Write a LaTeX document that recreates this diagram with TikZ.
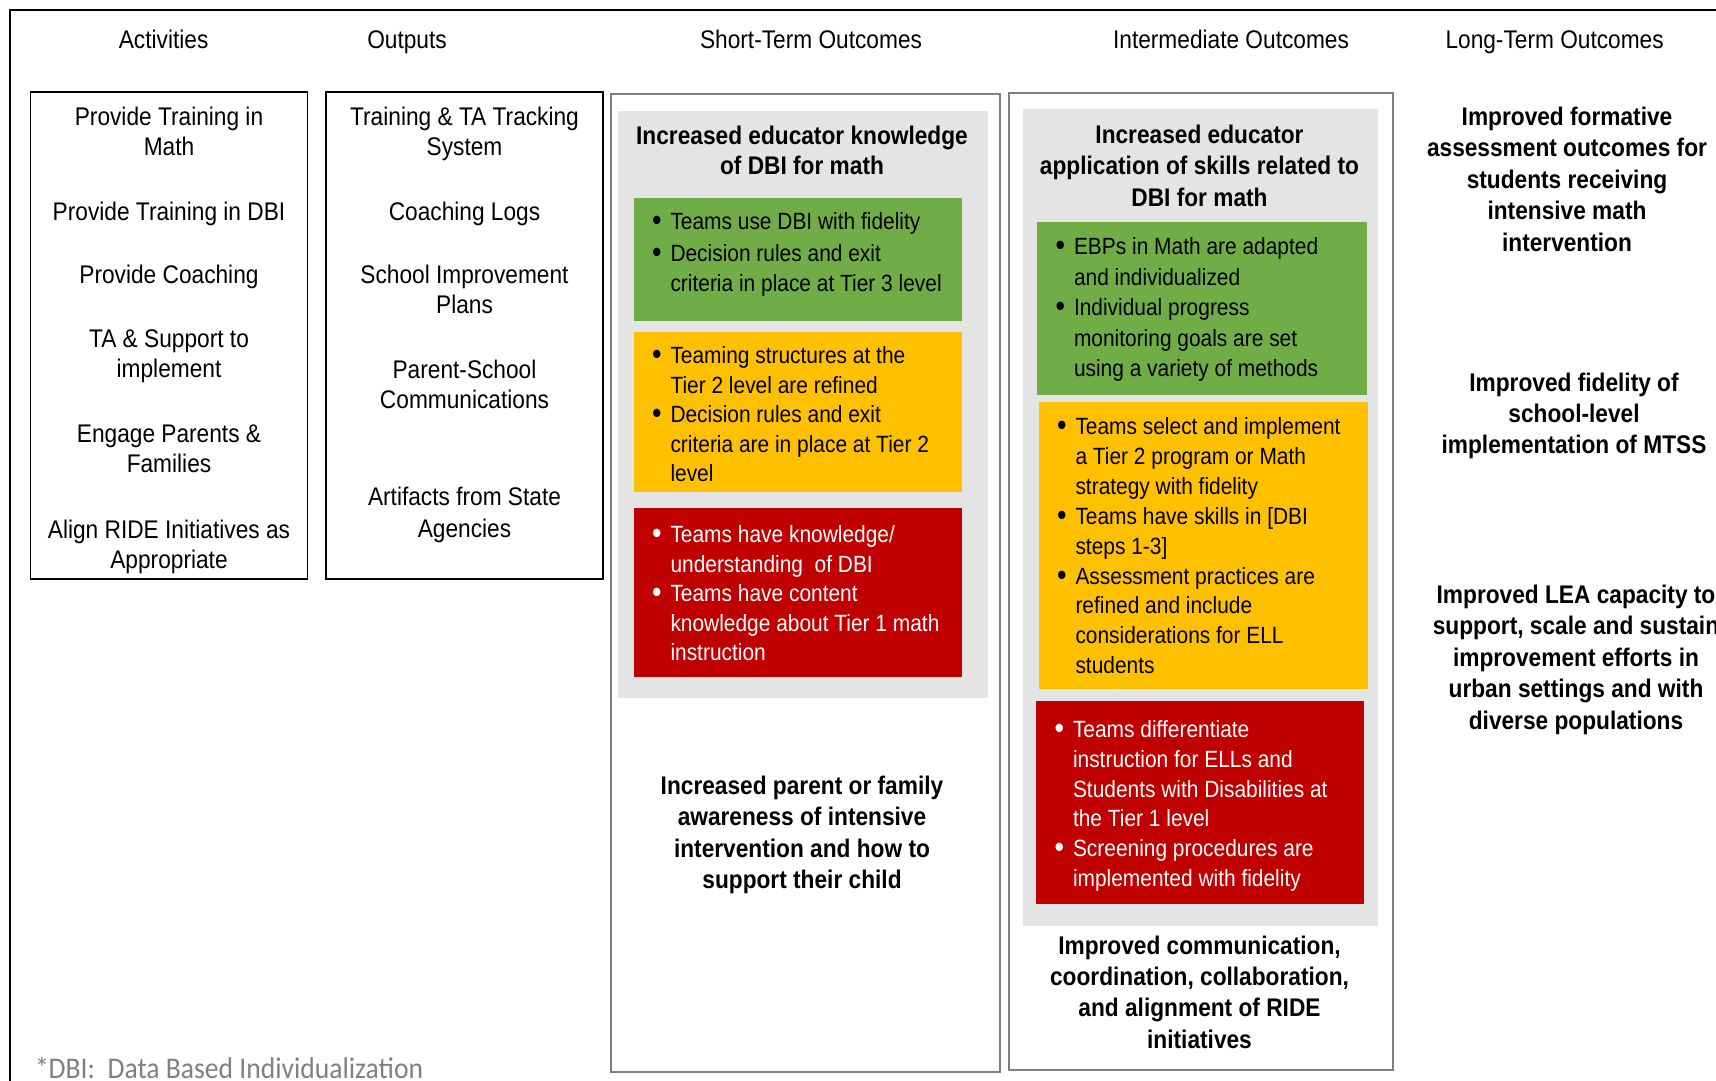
\documentclass[tikz,border=0pt]{standalone}
\usepackage{fontspec}
\usepackage{graphicx}
\setmainfont{Liberation Sans}[FakeStretch=0.89]
\newfontfamily\notefont{Carlito}[FakeStretch=0.92]
\definecolor{gpanel}{HTML}{E4E4E4}
\definecolor{ggreen}{HTML}{70AD47}
\definecolor{gyellow}{HTML}{FFC000}
\definecolor{gred}{HTML}{C00000}
\definecolor{boxgray}{HTML}{7F7F7F}
\definecolor{notegray}{HTML}{808080}
\newlength\bw \setlength\bw{18.5pt}
\newcommand\bl{\makebox[\bw][l]{\raisebox{-1.2pt}{\scalebox{1.3}{\textbullet}}}}
\newcommand\ind{\hspace*{\bw}}
\newcommand\mlc[1]{\begin{tabular}[t]{@{}c@{}}#1\end{tabular}}
\newcommand\mll[1]{\begin{tabular}[t]{@{}l@{}}#1\end{tabular}}
\begin{document}
\begin{tikzpicture}[x=1pt,y=-1pt,
  every node/.style={inner sep=0pt,outer sep=0pt},
  hdr/.style={anchor=base,font=\fontsize{25.5}{30.6}\selectfont},
  reg/.style={anchor=base,font=\fontsize{25.5}{30.6}\selectfont},
  bhead/.style={anchor=base,font=\fontsize{25.5}{#1}\selectfont\bfseries},
  blist/.style={anchor=base west,font=\fontsize{23.5}{#1}\selectfont},
  actbox/.style={draw=black,line width=1.5pt},
  outbox/.style={draw=boxgray,line width=2pt},
  panel/.style={fill=gpanel},
]
\useasboundingbox (0,0) rectangle (1716,1081);
\clip (0,0) rectangle (1716,1081);
\fill[white] (0,0) rectangle (1716,1081);
% outer frame
\draw[line width=2.5pt] (10,10) rectangle (1740,1110);

% headers
\node[hdr] (hA) at (163.6,48.6) {Activities};
\node[hdr] (hO) at (407,48.6) {Outputs};
\node[hdr] (hS) at (811,48.6) {Short-Term Outcomes};
\node[hdr] (hI) at (1231,48.6) {Intermediate Outcomes};
\node[hdr] (hL) at (1554.6,48.6) {Long-Term Outcomes};

% activities
\draw[actbox] (30.6,92) rectangle (307.5,579);
\node[reg] (a1) at (169,125) {\mlc{Provide Training in\\Math}};
\node[reg] (a2) at (169,220) {Provide Training in DBI};
\node[reg] (a3) at (169,283) {Provide Coaching};
\node[reg] (a4) at (169,347) {\mlc{TA \& Support to\\implement}};
\node[reg] (a5) at (169,442) {\mlc{Engage Parents \&\\Families}};
\node[reg] (a6) at (169,538) {\mlc{Align RIDE Initiatives as\\Appropriate}};

% outputs
\draw[actbox] (326,92) rectangle (603,579);
\node[reg] (o1) at (464.5,125) {\mlc{Training \& TA Tracking\\System}};
\node[reg] (o2) at (464.5,220) {Coaching Logs};
\node[reg] (o3) at (464.5,283) {\mlc{School Improvement\\Plans}};
\node[reg] (o4) at (464.5,378) {\mlc{Parent-School\\Communications}};
\node[reg] (o5) at (464.5,505) {\mlc{Artifacts from State\\[2pt]Agencies}};

% short-term
\draw[outbox] (610.5,94) rectangle (999.5,1072);
\fill[gpanel] (618,110.5) rectangle (988,698);
\fill[ggreen] (634,198) rectangle (962,321);
\fill[gyellow] (634,332) rectangle (962,492);
\fill[gred] (634,508) rectangle (962,677);
\node[bhead=30.5] (s0) at (802,144) {\mlc{Increased educator knowledge\\of DBI for math}};
\node[blist=30] (s1) at (652,229.5) {\mll{\bl Teams use DBI with fidelity\\[1.5pt]
  \bl Decision rules and exit\\
  \ind criteria in place at Tier 3 level}};
\node[blist=29.5] (s2) at (652,363.5) {\mll{\bl Teaming structures at the\\
  \ind Tier 2 level are refined\\
  \bl Decision rules and exit\\
  \ind criteria are in place at Tier 2\\
  \ind level}};
\node[blist=29.5,text=white] (s3) at (652,542.5) {\mll{\bl Teams have knowledge/\\
  \ind understanding\ \ of DBI\\
  \bl Teams have content\\
  \ind knowledge\ about\ Tier 1 math\\
  \ind instruction}};
\node[bhead=31.6] (s4) at (802,794) {\mlc{Increased parent or family\\awareness of intensive\\intervention and how to\\support their child}};

% intermediate
\draw[outbox] (1009,93) rectangle (1392.5,1070);
\fill[gpanel] (1022.5,108.5) rectangle (1377.5,926);
\fill[ggreen] (1036.5,222) rectangle (1366.5,395);
\fill[gyellow] (1038.5,402) rectangle (1368,689);
\fill[gred] (1036,701) rectangle (1364,904);
\node[bhead=31.5] (i0) at (1199.5,143) {\mlc{Increased educator\\application of skills related to\\DBI for math}};
\node[blist=30.5] (i1) at (1055.5,254.5) {\mll{\bl EBPs in Math are adapted\\
  \ind and individualized\\
  \bl Individual\ progress\\
  \ind monitoring\ goals are set\\
  \ind using a\ variety of methods}};
\node[blist=29.9] (i2) at (1057,434.5) {\mll{\bl Teams select and implement\\
  \ind a Tier 2 program\ or Math\\
  \ind strategy with fidelity\\
  \bl Teams have skills in [DBI\\
  \ind steps 1-3]\\
  \bl Assessment practices are\\
  \ind refined and include\\
  \ind considerations\ for ELL\\
  \ind students}};
\node[blist=29.8,text=white] (i3) at (1054.5,737.5) {\mll{\bl Teams differentiate\\
  \ind instruction for ELLs and\\
  \ind Students with Disabilities at\\
  \ind the Tier 1 level\\
  \bl Screening\ procedures\ are\\
  \ind implemented\ with fidelity}};
\node[bhead=31.4] (i4) at (1199.5,954) {\mlc{Improved communication,\\coordination, collaboration,\\and alignment of RIDE\\initiatives}};

% long-term
\node[bhead=31.5] (l1) at (1567,125) {\mlc{Improved formative\\assessment outcomes for\\students receiving\\intensive math\\intervention}};
\node[bhead=31] (l2) at (1574,391) {\mlc{Improved fidelity of\\school-level\\implementation of MTSS}};
\node[bhead=31.6] (l3) at (1576,603) {\mlc{Improved LEA capacity to\\support, scale and sustain\\improvement efforts in\\urban settings and with\\diverse populations}};

% footnote
\node[anchor=base west,font=\notefont\fontsize{30}{36}\selectfont,text=notegray] (fn) at (35,1078) {*DBI:\ \ Data Based Individualization};
\end{tikzpicture}
\end{document}
